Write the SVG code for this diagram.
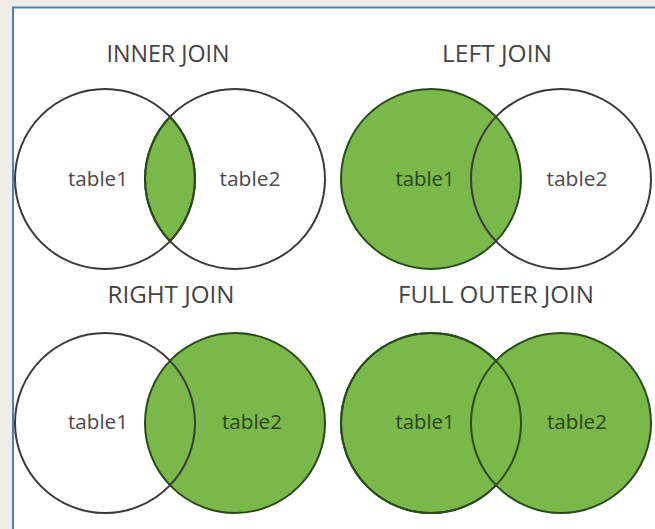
<svg xmlns="http://www.w3.org/2000/svg" width="655" height="529" viewBox="0 0 655 529">
<style>
.title{font-family:"Open Sans","Liberation Sans",sans-serif;font-size:23px;fill:#444444;text-anchor:middle}
.lbl{font-family:"Open Sans","Liberation Sans",sans-serif;font-size:20px;text-anchor:middle}
.lw{fill:#4a4a4a}
.lg{fill:#2a451c}
.cw{fill:none;stroke:#3a3a3a;stroke-width:2}
.cg{fill:#7bb84a;stroke:#2b4a1c;stroke-width:2}
.edge{fill:none;stroke:#2b4a1c;stroke-width:2}
</style>
<defs>
<clipPath id="clipL1"><circle cx="105" cy="179" r="90"/></clipPath>
</defs>
<rect x="0" y="0" width="655" height="529" fill="#f0ede6"/>
<rect x="13" y="7.5" width="660" height="540" fill="#ffffff" stroke="#4a7fc1" stroke-width="2"/>

<g id="inner-join">
<text class="title" x="168" y="62" textLength="123" lengthAdjust="spacingAndGlyphs">INNER JOIN</text>
<circle cx="235" cy="179" r="90" clip-path="url(#clipL1)" fill="#7bb84a"/>
<circle class="cw" cx="105" cy="179" r="90"/>
<circle class="cw" cx="235" cy="179" r="90"/>
<path class="edge" d="M170 116.8 A90 90 0 0 0 170 241.2 A90 90 0 0 0 170 116.8 Z"/>
<text class="lbl lw" x="98" y="186" textLength="60" lengthAdjust="spacingAndGlyphs">table1</text>
<text class="lbl lw" x="250" y="186" textLength="61" lengthAdjust="spacingAndGlyphs">table2</text>
</g>

<g id="left-join">
<text class="title" x="497" y="62" textLength="110" lengthAdjust="spacingAndGlyphs">LEFT JOIN</text>
<circle class="cg" cx="431" cy="179" r="90"/>
<circle class="cw" cx="561" cy="179" r="90"/>
<text class="lbl lg" x="425" y="186" textLength="59" lengthAdjust="spacingAndGlyphs">table1</text>
<text class="lbl lw" x="577" y="186" textLength="61" lengthAdjust="spacingAndGlyphs">table2</text>
</g>

<g id="right-join">
<text class="title" x="171" y="303" textLength="127" lengthAdjust="spacingAndGlyphs">RIGHT JOIN</text>
<circle class="cg" cx="235" cy="423" r="90"/>
<circle class="cw" cx="105" cy="423" r="90"/>
<text class="lbl lw" x="98" y="429" textLength="60" lengthAdjust="spacingAndGlyphs">table1</text>
<text class="lbl lg" x="252" y="429" textLength="60" lengthAdjust="spacingAndGlyphs">table2</text>
</g>

<g id="full-outer-join">
<text class="title" x="496" y="303" textLength="196" lengthAdjust="spacingAndGlyphs">FULL OUTER JOIN</text>
<circle class="cg" cx="431" cy="423" r="90"/>
<circle class="cg" cx="561" cy="423" r="90"/>
<circle class="edge" cx="431" cy="423" r="90"/>
<text class="lbl lg" x="425" y="429" textLength="59" lengthAdjust="spacingAndGlyphs">table1</text>
<text class="lbl lg" x="577" y="429" textLength="60" lengthAdjust="spacingAndGlyphs">table2</text>
</g>

<g id="connectors"></g>
</svg>
